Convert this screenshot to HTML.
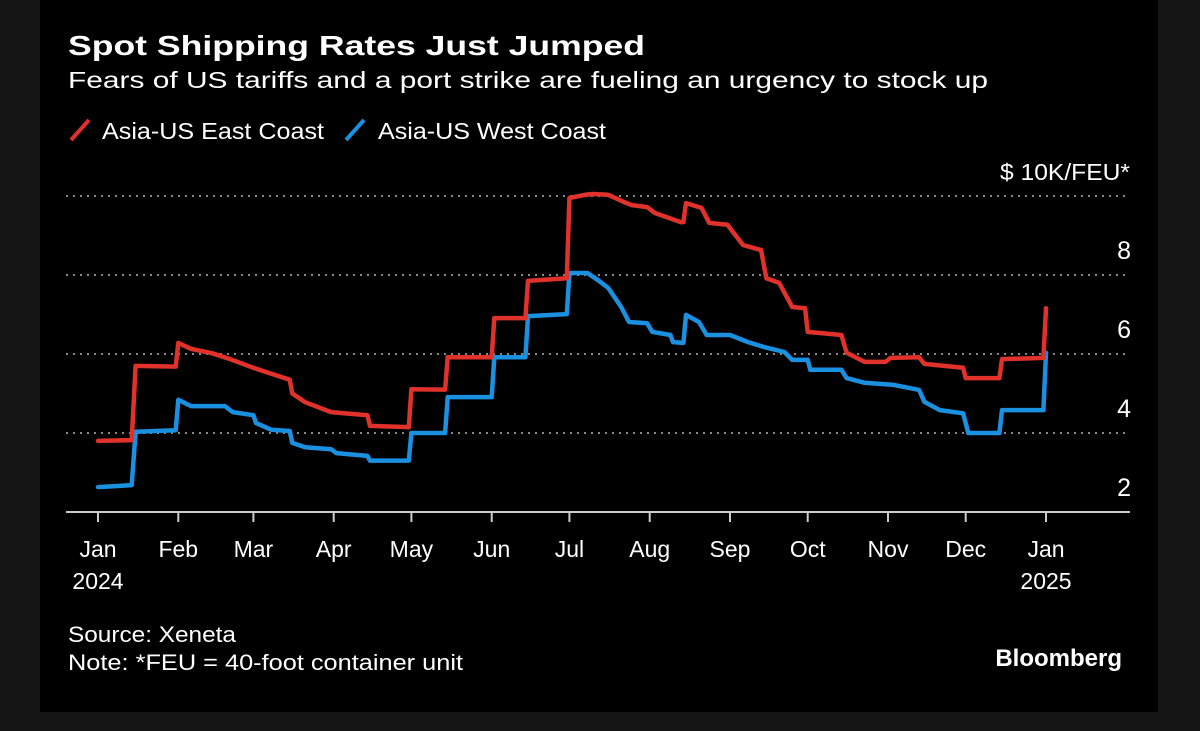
<!DOCTYPE html>
<html><head><meta charset="utf-8">
<style>
html,body{margin:0;padding:0;background:#151515;}
svg{display:block;font-family:"Liberation Sans",sans-serif;}
</style></head>
<body>
<svg id="chart" width="1200" height="731" viewBox="0 0 1200 731">
  <rect x="0" y="0" width="1200" height="731" fill="#151515"/>
  <rect x="40" y="0" width="1118" height="712" fill="#000"/>
  <text x="68" y="55" fill="#fff" font-size="28" font-weight="bold" textLength="577" lengthAdjust="spacingAndGlyphs">Spot Shipping Rates Just Jumped</text>
  <text x="68" y="88" fill="#fff" font-size="23" textLength="920" lengthAdjust="spacingAndGlyphs">Fears of US tariffs and a port strike are fueling an urgency to stock up</text>
  <g>
    <line x1="71" y1="140" x2="89" y2="120" stroke="#e0312b" stroke-width="4"/>
    <text x="102" y="139" fill="#fff" font-size="23" textLength="222" lengthAdjust="spacingAndGlyphs">Asia-US East Coast</text>
    <line x1="346" y1="140" x2="364" y2="120" stroke="#1a90e0" stroke-width="4"/>
    <text x="378" y="139" fill="#fff" font-size="23" textLength="228" lengthAdjust="spacingAndGlyphs">Asia-US West Coast</text>
  </g>
  <text x="1130" y="180" fill="#fff" font-size="23" text-anchor="end" textLength="130" lengthAdjust="spacingAndGlyphs">$ 10K/FEU*</text>
  <g id="grid"></g>
  <g id="series"></g>
  <g id="xaxis"></g>
  <text x="68" y="642" fill="#fff" font-size="22" textLength="168" lengthAdjust="spacingAndGlyphs">Source: Xeneta</text>
  <text x="68" y="670" fill="#fff" font-size="22" textLength="395" lengthAdjust="spacingAndGlyphs">Note: *FEU = 40-foot container unit</text>
  <text x="1122" y="666" fill="#fff" font-size="24" font-weight="bold" text-anchor="end">Bloomberg</text>
</svg>
<script>
const yTicks = [2, 4, 6, 8, 10];
const monthLabels = ["Jan","Feb","Mar","Apr","May","Jun","Jul","Aug","Sep","Oct","Nov","Dec","Jan"];
const monthDays = [0,31,60,91,121,152,182,213,244,274,305,335,366];
const yearLabels = [["2024",0],["2025",366]];
const eastDays = [0,13,14.5,30,31,36,44,51,60,66,74,75,80,90,104,105,120,121,134,135,152,153,165,166,181,182,188,191,197,203,206,212,215,225,226,227,233,236,243,249,256,258,263,268,273,274,287,289,296,304,306,317,319,334,335,348,349,365,366];
const eastVals = [3.80,3.82,5.70,5.68,6.28,6.13,6.02,5.87,5.65,5.52,5.35,5.00,4.78,4.53,4.45,4.18,4.15,5.11,5.10,5.92,5.92,6.91,6.91,7.85,7.92,9.95,10.03,10.05,10.03,9.85,9.77,9.72,9.57,9.34,9.34,9.82,9.70,9.32,9.27,8.76,8.63,7.92,7.80,7.19,7.16,6.56,6.48,6.03,5.80,5.80,5.90,5.92,5.75,5.65,5.39,5.39,5.87,5.90,7.16];
const westDays = [0,13,14.5,30,31,36,49,52,60,61,67,74,75,80,90,92,104,105,120,121,134,135,152,153,165,166,181,182,189,193,197,202,205,212,214,221,222,226,227,232,235,244,251,257,265,268,274,275,287,289,296,307,317,319,325,334,336,348,349,365,366];
const westVals = [2.63,2.68,4.03,4.07,4.84,4.68,4.68,4.53,4.45,4.25,4.08,4.05,3.75,3.64,3.59,3.49,3.42,3.30,3.30,4.00,4.00,4.91,4.91,5.92,5.92,6.96,7.01,8.05,8.05,7.87,7.67,7.19,6.81,6.78,6.56,6.48,6.30,6.28,6.99,6.81,6.48,6.48,6.30,6.18,6.05,5.85,5.85,5.60,5.60,5.39,5.27,5.22,5.09,4.79,4.58,4.50,4.00,4.00,4.58,4.58,6.03];

const NS = "http://www.w3.org/2000/svg";
const xS = d => 98 + d * (1046 - 98) / 366;
const yS = v => 512 - (v - 2) * 39.5;
function mk(tag, attrs, parent){ const e = document.createElementNS(NS, tag); for (const k in attrs) e.setAttribute(k, attrs[k]); parent.appendChild(e); return e; }

const grid = document.getElementById("grid");
yTicks.forEach(v => {
  if (v > 2) {
    const g = mk("line", {x1:66, x2:1130, y1:yS(v), y2:yS(v), stroke:"#888", "stroke-width":2, "stroke-dasharray":"2 5"}, grid);
    
    
  }
  if (v < 10) {
    const t = mk("text", {x:1131, y:yS(v) - 16, fill:"#fff", "font-size":25, "text-anchor":"end"}, grid);
    t.textContent = v;
    
    
  }
});

const xa = document.getElementById("xaxis");
const base = mk("line", {x1:66, x2:1130, y1:512, y2:512, stroke:"#ccc", "stroke-width":2}, xa);


monthLabels.forEach((m, i) => {
  const x = xS(monthDays[i]);
  const tk = mk("line", {x1:x, x2:x, y1:512, y2:522, stroke:"#ccc", "stroke-width":2}, xa);
  
  
  const t = mk("text", {x:x, y:557, fill:"#fff", "font-size":23, "text-anchor":"middle"}, xa);
  t.textContent = m;
  
  
});
yearLabels.forEach(([yr, d]) => {
  const t = mk("text", {x:xS(d), y:589, fill:"#fff", "font-size":23, "text-anchor":"middle"}, xa);
  t.textContent = yr;
  
  
});

const sg = document.getElementById("series");
function drawLine(days, vals, color, name){
  const d = days.map((dd, i) => (i ? "L" : "M") + xS(dd).toFixed(1) + " " + yS(vals[i]).toFixed(1)).join(" ");
  const p = mk("path", {d:d, fill:"none", stroke:color, "stroke-width":4.5, "stroke-linejoin":"round", "stroke-linecap":"round"}, sg);
  
  
}
drawLine(westDays, westVals, "#1a90e0", "west-coast-line");
drawLine(eastDays, eastVals, "#e0312b", "east-coast-line");
</script>
</body></html>
